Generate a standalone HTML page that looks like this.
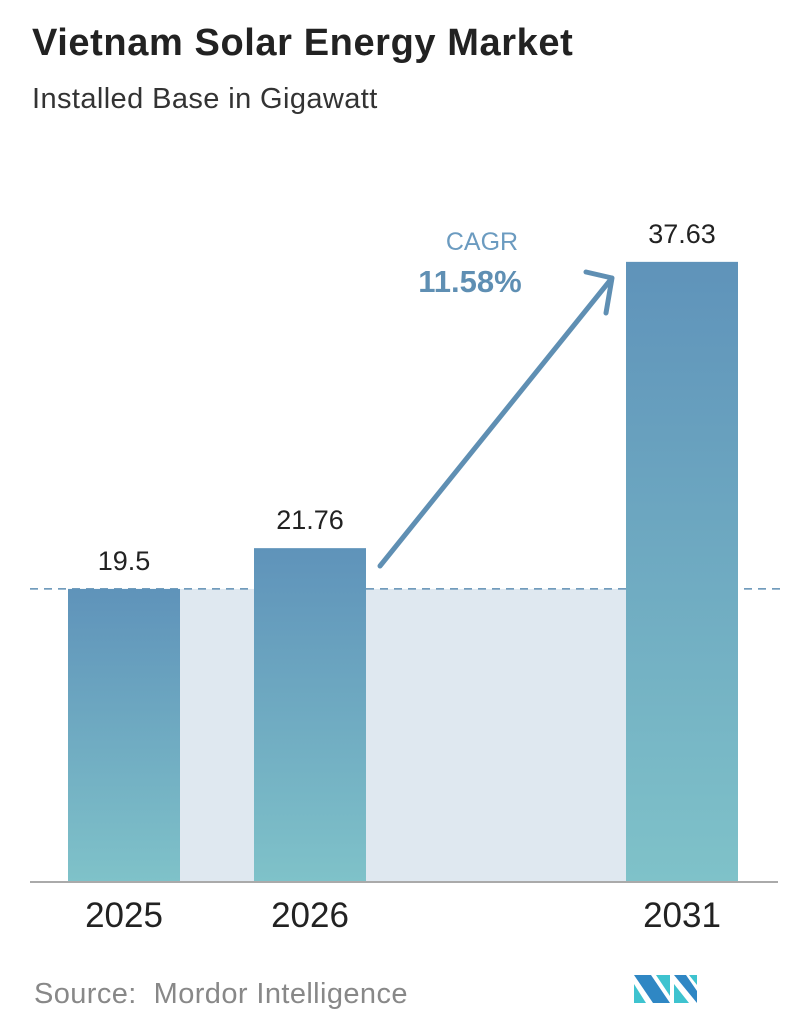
<!DOCTYPE html>
<html><head><meta charset="utf-8"><style>
html,body{margin:0;padding:0;background:#fff;}
body{width:796px;height:1034px;position:relative;overflow:hidden;font-family:"Liberation Sans","DejaVu Sans",sans-serif;}
.t{position:absolute;white-space:nowrap;}
</style></head><body>
<div class="t" style="left:32px;top:22px;font-size:38px;font-weight:bold;color:#222;letter-spacing:0.6px;">Vietnam Solar Energy Market</div>
<div class="t" style="left:32px;top:83px;font-size:29px;color:#333;letter-spacing:0.4px;">Installed Base in Gigawatt</div>
<svg id="chart" width="796" height="1034" style="position:absolute;left:0;top:0;">
<defs><linearGradient id="g" x1="0" y1="0" x2="0" y2="1"><stop offset="0" stop-color="#5f93ba"/><stop offset="1" stop-color="#7fc2c9"/></linearGradient></defs>
</svg>
<div class="t" style="left:34px;top:978px;font-size:29px;color:#888;letter-spacing:0.4px;">Source:&nbsp; Mordor Intelligence</div>
<svg width="70" height="40" style="position:absolute;left:634px;top:970px;">
<polygon points="0,5 17,5 36,33 19,33" fill="#2f87c4"/><polygon points="0,14 12,33 0,33" fill="#3ec3cf"/>
<polygon points="22,5 36,5 36,26" fill="#3ec3cf"/><polygon points="40,5 52,5 63,21 63,33" fill="#2f87c4"/><polygon points="40,14 55,33 40,33" fill="#3ec3cf"/><polygon points="55,5 63,5 63,15" fill="#3ec3cf"/>
</svg>
<script>
const categories=["2025","2026","2031"];
const values=[19.5,21.76,37.63];
const labels=["19.5","21.76","37.63"];
const NS="http://www.w3.org/2000/svg";
const svg=document.getElementById('chart');
const baseY=882, barW=112;
const xCenters=[124,310,682];
function y(v){return 940.7-18.04*v;}
function mk(tag,attrs){const e=document.createElementNS(NS,tag);for(const k in attrs)e.setAttribute(k,attrs[k]);svg.appendChild(e);return e;}
let sh=mk('rect',{x:xCenters[0]-barW/2,y:y(values[0]),width:xCenters[2]-xCenters[0]+barW,height:baseY-y(values[0]),fill:'#dfe8f0'});


let dl=mk('line',{x1:30,x2:780,y1:y(values[0]),y2:y(values[0]),stroke:'#5f8fb3','stroke-width':1.5,'stroke-dasharray':'8,6'});


categories.forEach((c,i)=>{
 const r=mk('rect',{x:xCenters[i]-barW/2,y:y(values[i]),width:barW,height:baseY-y(values[i]),fill:'url(#g)'});
 
 
 const t=mk('text',{x:xCenters[i],y:y(values[i])-19,'text-anchor':'middle','font-size':27,fill:'#222','font-family':'Liberation Sans, sans-serif'});
 t.textContent=labels[i];
 
 
 const xl=mk('text',{x:xCenters[i],y:927,'text-anchor':'middle','font-size':35,fill:'#222','font-family':'Liberation Sans, sans-serif'});
 xl.textContent=c;
 
 
});
let ax=mk('line',{x1:30,x2:778,y1:baseY,y2:baseY,stroke:'#aaa','stroke-width':2});


let ar=mk('path',{d:'M380,566 L612,278 M586,272 L612,278 L606,313',stroke:'#5f8fb3','stroke-width':5,fill:'none','stroke-linecap':'round','stroke-linejoin':'round'});


let c1=mk('text',{x:482,y:250,'text-anchor':'middle','font-size':25,fill:'#6b9bc0','font-family':'Liberation Sans, sans-serif'});
c1.textContent='CAGR';


let c2=mk('text',{x:470,y:292,'text-anchor':'middle','font-size':31,'font-weight':'bold',fill:'#5f8fb3','font-family':'Liberation Sans, sans-serif'});
c2.textContent='11.58%';


</script>
</body></html>
